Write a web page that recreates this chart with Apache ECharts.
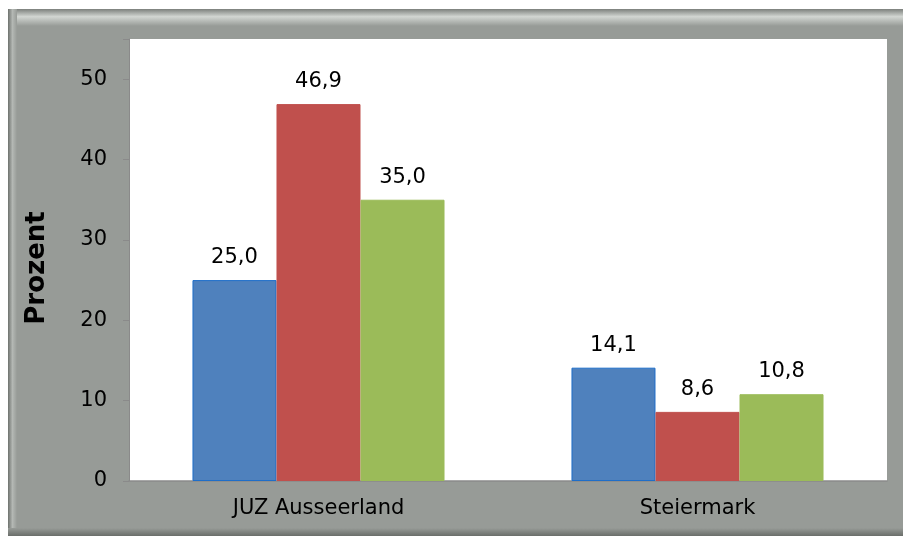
<!DOCTYPE html>
<html><head><meta charset="utf-8">
<script src="https://cdn.jsdelivr.net/npm/echarts@6/dist/echarts.min.js"></script>
<style>html,body{margin:0;padding:0;background:#fff}#c{width:903px;height:536px}</style>
</head><body><div id="c"></div>
<script>
const categories = ['JUZ Ausseerland', 'Steiermark'];
const seriesA = [25.0, 14.1];
const seriesB = [46.9, 8.6];
const seriesC = [35.0, 10.8];
const yTicks = [0, 10, 20, 30, 40, 50];

const chart = echarts.init(document.getElementById('c'), null, {renderer: 'canvas'});
const font = 'DejaVu Sans, Verdana, sans-serif';
function mk(data, color, border) {
  return {
    type: 'bar', data: data, barGap: '0%', barCategoryGap: '33.5%',
    itemStyle: {color: color, borderColor: border, borderWidth: 1},
    label: {show: true, position: 'top', distance: 12, color: '#000', fontFamily: font, fontSize: 21,
      formatter: p => p.value.toFixed(1).replace('.', ',')}
  };
}
chart.setOption({
  animation: false,
  backgroundColor: '#fff',
  graphic: [
    {type: 'rect', z: -10, shape: {x: 8, y: 9, width: 895, height: 527}, style: {fill: '#979b97'}},
    {type: 'rect', z: -9, shape: {x: 8, y: 9, width: 895, height: 17},
      style: {fill: new echarts.graphic.LinearGradient(0, 0, 0, 1, [
        {offset: 0, color: '#7c807c'}, {offset: 0.45, color: '#d2d6d2'}, {offset: 1, color: '#979b97'}])}},
    {type: 'rect', z: -8, shape: {x: 8, y: 9, width: 9, height: 527},
      style: {fill: new echarts.graphic.LinearGradient(0, 0, 1, 0, [
        {offset: 0, color: '#6e726e'}, {offset: 0.5, color: '#b4b8b4'}, {offset: 1, color: '#979b97'}])}},
    {type: 'rect', z: -8, shape: {x: 8, y: 528, width: 895, height: 8},
      style: {fill: new echarts.graphic.LinearGradient(0, 0, 0, 1, [
        {offset: 0, color: '#979b97'}, {offset: 1, color: '#6a6e6a'}])}}
  ],
  grid: {left: 129, top: 39, right: 16, bottom: 55, show: true, backgroundColor: '#fff', borderWidth: 0},
  xAxis: {
    type: 'category', data: categories,
    axisLine: {lineStyle: {color: '#8a8a8a', width: 1.5}},
    axisTick: {show: false},
    axisLabel: {color: '#000', fontFamily: font, fontSize: 21, margin: 17}
  },
  yAxis: {
    type: 'value', min: 0, max: 55, interval: 10,
    name: 'Prozent', nameLocation: 'middle', nameGap: 79, nameRotate: 90,
    nameTextStyle: {color: '#000', fontFamily: font, fontSize: 26, fontWeight: 'bold', padding: [0, 16, 0, 0]},
    axisLine: {show: true, lineStyle: {color: '#8a8a8a', width: 1}},
    axisTick: {show: true, length: 6, lineStyle: {color: '#8a8a8a'}},
    splitLine: {show: false},
    axisLabel: {color: '#000', fontFamily: font, fontSize: 21, margin: 22,
      formatter: v => yTicks.includes(v) ? String(v) : ''}
  },
  series: [
    mk(seriesA, '#4f81bd', '#1f6ec8'),
    mk(seriesB, '#c0504d', '#c0504d'),
    mk(seriesC, '#9bbb59', '#9bbb59')
  ]
});
</script></body></html>
